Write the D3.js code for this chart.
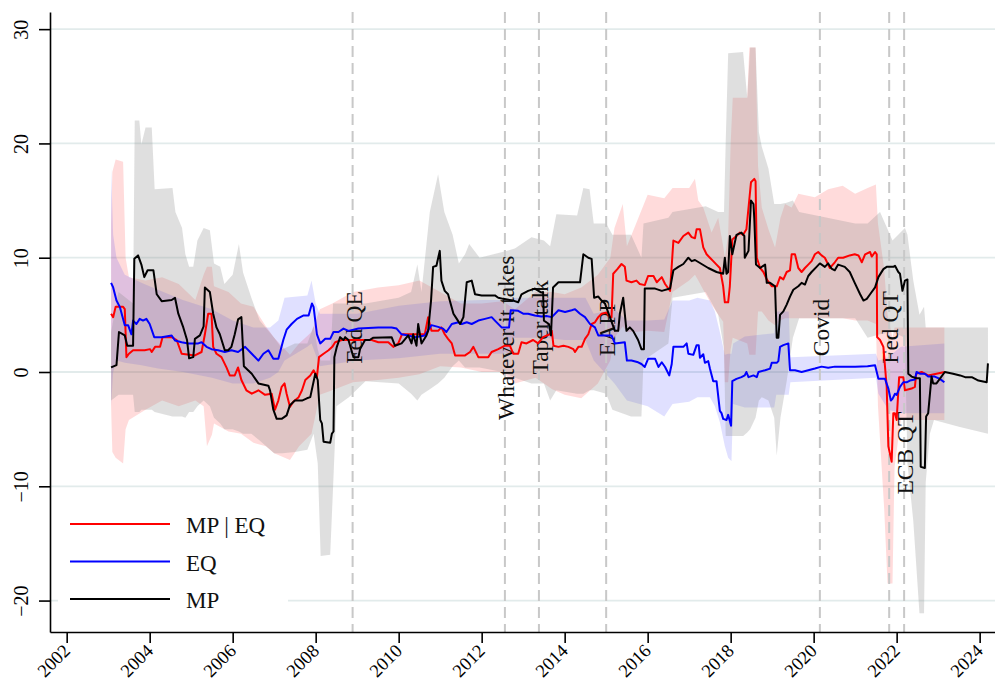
<!DOCTYPE html>
<html>
<head>
<meta charset="utf-8">
<script src="https://cdn.jsdelivr.net/npm/d3@7"></script>
<style>
  body { margin: 0; background: #fff; }
  #chart { width: 995px; height: 684px; }
  text { font-family: "Liberation Serif", "Times New Roman", serif; }
</style>
</head>
<body>
<div id="chart"></div>
<script>
// --- Data ---
const yTicks = [-20, -10, 0, 10, 20, 30];
const xTicks = [2002, 2004, 2006, 2008, 2010, 2012, 2014, 2016, 2018, 2020, 2022, 2024];

const events = [
  { name: "Fed QE", year: 2008.89, labelY: 3.9 },
  { name: "Whatever it takes", year: 2012.56, labelY: 3.0 },
  { name: "Taper talk", year: 2013.38, labelY: 3.9 },
  { name: "EAPP", year: 2015.0, labelY: 3.9 },
  { name: "Covid", year: 2020.15, labelY: 3.9 },
  { name: "Fed QT", year: 2021.82, labelY: 3.9 },
  { name: "ECB QT", year: 2022.18, labelY: -7.1 }
];

// MP | EQ (red)
const mpEqLine = [
  [2003.07,5.1],[2003.12,4.8],[2003.18,5.7],[2003.36,5.7],[2003.40,5.5],[2003.44,1.3],[2003.50,1.6],[2003.60,1.9],
  [2003.88,1.9],[2004.01,2.0],[2004.05,1.75],[2004.13,2.2],[2004.25,2.2],[2004.31,3.05],[2004.53,3.05],[2004.65,2.8],
  [2004.77,1.6],[2005.09,1.45],[2005.25,1.75],[2005.33,3.3],[2005.41,5.1],[2005.49,5.1],[2005.53,2.2],[2005.61,1.6],
  [2005.73,1.3],[2005.85,0.4],[2005.93,-0.3],[2006.05,-0.3],[2006.13,0.4],[2006.21,-0.7],[2006.33,-1.6],[2006.46,-1.9],
  [2006.62,-1.6],[2006.78,-2.0],[2006.94,-1.9],[2007.02,-3.3],[2007.10,-2.5],[2007.18,-1.3],[2007.25,-1.0],[2007.30,-1.9],
  [2007.38,-3.05],[2007.46,-2.6],[2007.59,-2.2],[2007.67,-1.6],[2007.75,-0.7],[2007.87,-0.3],[2007.95,0.15],[2008.03,-0.45],
  [2008.08,1.3],[2008.19,1.6],[2008.31,1.9],[2008.40,2.2],[2008.47,2.6],[2008.63,2.8],[2009.35,2.8],[2009.51,2.6],
  [2009.75,2.6],[2009.87,2.2],[2009.99,2.5],[2010.08,3.3],[2010.63,3.3],[2010.71,4.8],[2010.75,4.2],[2010.79,3.6],
  [2010.95,3.6],[2011.03,3.9],[2011.11,3.3],[2011.19,2.9],[2011.28,2.5],[2011.36,1.45],[2011.60,1.45],[2011.72,1.75],
  [2011.80,2.2],[2011.92,1.3],[2012.16,1.3],[2012.24,1.75],[2012.40,2.0],[2012.56,2.3],[2012.68,2.3],[2012.76,1.6],
  [2012.88,1.6],[2012.96,2.6],[2013.08,2.5],[2013.24,2.8],[2013.36,2.5],[2013.48,3.05],[2013.64,3.3],[2013.69,3.6],
  [2013.73,2.3],[2013.85,2.2],[2013.97,2.3],[2014.09,2.2],[2014.21,2.0],[2014.25,1.75],[2014.33,2.2],[2014.41,2.2],
  [2014.49,2.9],[2014.57,3.3],[2014.65,4.2],[2014.73,4.35],[2014.81,4.8],[2014.89,5.1],[2015.01,5.2],[2015.09,4.8],
  [2015.13,4.8],[2015.17,8.6],[2015.27,9.0],[2015.37,9.45],[2015.45,9.2],[2015.49,8.0],[2015.61,7.85],[2015.73,8.0],
  [2015.81,7.7],[2015.93,7.6],[2016.01,8.4],[2016.14,8.4],[2016.22,7.85],[2016.34,8.3],[2016.42,7.7],[2016.54,7.1],
  [2016.62,11.5],[2016.74,11.3],[2016.86,11.9],[2016.98,12.2],[2017.06,11.8],[2017.14,11.7],[2017.18,12.5],[2017.26,12.5],
  [2017.34,10.9],[2017.42,10.3],[2017.50,10.0],[2017.58,9.7],[2017.66,9.4],[2017.74,9.1],[2017.82,7.5],[2017.86,6.1],
  [2017.94,6.1],[2017.98,7.5],[2018.04,11.6],[2018.14,11.9],[2018.22,12.2],[2018.30,12.0],[2018.38,12.5],[2018.49,16.6],
  [2018.57,16.9],[2018.60,16.7],[2018.63,10.0],[2018.71,9.1],[2018.79,8.75],[2018.87,8.1],[2018.99,7.5],[2019.11,7.5],
  [2019.19,8.3],[2019.27,8.1],[2019.35,8.75],[2019.43,8.9],[2019.47,10.3],[2019.55,10.3],[2019.63,9.1],[2019.71,8.75],
  [2019.79,9.1],[2019.87,9.4],[2019.95,9.7],[2020.03,10.3],[2020.11,10.5],[2020.19,10.2],[2020.27,10.0],[2020.39,9.1],
  [2020.51,9.6],[2020.59,10.0],[2020.71,10.0],[2020.87,10.2],[2020.99,10.3],[2021.08,10.2],[2021.16,9.6],[2021.24,10.3],
  [2021.36,10.5],[2021.40,10.1],[2021.48,10.5],[2021.52,10.3],[2021.53,3.05],[2021.60,2.8],[2021.68,2.2],[2021.76,-1.3],
  [2021.80,-6.5],[2021.88,-7.85],[2021.92,-3.6],[2021.96,-3.6],[2022.00,-4.2],[2022.06,-0.45],[2022.16,-0.45],[2022.20,-1.6],
  [2022.36,-1.45],[2022.44,-1.3],[2022.47,-0.15],[2022.60,0.0],[2022.76,-0.3],[2022.96,-0.15],[2023.16,0.0]
];

// EQ (blue)
const eqLine = [
  [2003.07,7.8],[2003.12,7.4],[2003.20,6.25],[2003.28,5.7],[2003.40,4.1],[2003.48,4.1],[2003.56,3.3],[2003.60,4.5],
  [2003.68,4.2],[2003.76,4.65],[2003.84,4.5],[2003.92,4.65],[2004.00,4.2],[2004.11,3.05],[2004.29,3.05],[2004.53,3.2],
  [2004.61,2.75],[2004.77,2.6],[2004.93,2.5],[2005.17,2.5],[2005.25,2.6],[2005.37,2.2],[2005.49,2.0],[2005.65,1.9],
  [2005.81,1.75],[2005.97,1.9],[2006.13,1.75],[2006.30,2.2],[2006.46,1.6],[2006.62,1.0],[2006.74,1.6],[2006.86,1.9],
  [2006.98,1.15],[2007.10,1.15],[2007.22,2.8],[2007.30,3.7],[2007.42,4.2],[2007.55,4.65],[2007.71,4.95],[2007.83,4.95],
  [2007.91,6.0],[2007.95,5.7],[2007.99,4.5],[2008.03,3.3],[2008.11,2.5],[2008.23,2.9],[2008.35,2.9],[2008.43,3.5],
  [2008.55,3.5],[2008.67,3.8],[2008.79,3.6],[2009.03,3.8],[2009.51,3.9],[2009.83,3.9],[2009.95,3.8],[2010.07,3.3],
  [2010.23,3.2],[2010.39,3.05],[2010.63,3.2],[2010.79,4.1],[2010.95,3.95],[2011.07,3.8],[2011.15,3.5],[2011.28,4.2],
  [2011.44,4.35],[2011.52,4.2],[2011.64,4.35],[2011.76,4.2],[2011.92,4.5],[2012.08,4.65],[2012.24,4.8],[2012.32,4.5],
  [2012.48,3.9],[2012.66,3.9],[2012.70,5.4],[2012.88,5.35],[2013.00,5.1],[2013.12,5.1],[2013.28,4.95],[2013.44,4.85],
  [2013.56,4.9],[2013.69,4.8],[2013.85,5.4],[2014.01,5.25],[2014.17,5.4],[2014.25,5.5],[2014.37,5.1],[2014.49,4.8],
  [2014.61,4.2],[2014.73,3.9],[2014.81,3.2],[2015.13,3.2],[2015.21,2.5],[2015.45,2.6],[2015.50,1.0],[2015.61,1.0],
  [2015.77,0.85],[2015.85,0.7],[2015.93,0.44],[2016.01,1.15],[2016.18,1.15],[2016.26,0.44],[2016.34,0.85],[2016.42,0.44],
  [2016.52,-0.3],[2016.58,0.7],[2016.62,2.2],[2016.86,2.2],[2016.94,2.5],[2016.98,1.6],[2017.10,1.5],[2017.18,2.35],
  [2017.23,2.35],[2017.26,1.25],[2017.34,1.55],[2017.38,0.8],[2017.46,0.95],[2017.50,0.3],[2017.58,-0.8],[2017.66,-0.8],
  [2017.74,-3.4],[2017.78,-3.6],[2017.82,-4.1],[2017.90,-4.2],[2017.94,-3.75],[2018.01,-4.7],[2018.04,-0.8],[2018.14,-0.6],
  [2018.26,-0.45],[2018.34,-0.3],[2018.38,0.0],[2018.43,-0.45],[2018.55,-0.3],[2018.63,-0.45],[2018.67,0.0],[2018.83,0.15],
  [2018.95,0.3],[2018.99,0.8],[2019.11,0.8],[2019.15,0.95],[2019.19,2.2],[2019.27,2.35],[2019.39,2.5],[2019.43,0.15],
  [2019.55,0.15],[2019.71,0.0],[2019.87,0.15],[2020.03,0.3],[2020.19,0.47],[2020.35,0.38],[2020.51,0.47],[2021.00,0.47],
  [2021.30,0.5],[2021.48,0.6],[2021.56,-0.6],[2021.72,-0.6],[2021.80,-1.45],[2021.86,-2.5],[2021.90,-2.35],[2021.96,-1.9],
  [2022.00,-2.0],[2022.08,-1.3],[2022.16,-0.9],[2022.24,-0.9],[2022.32,-0.75],[2022.44,-0.65],[2022.48,0.0],[2022.56,-0.15],
  [2022.68,-0.15],[2022.76,-0.4],[2022.92,-0.4],[2023.04,-0.6],[2023.15,-0.9]
];

// MP (black)
const mpLine = [
  [2003.07,0.4],[2003.20,0.6],[2003.26,3.5],[2003.40,3.2],[2003.46,2.3],[2003.60,2.3],[2003.63,9.9],[2003.72,10.2],
  [2003.80,9.4],[2003.87,8.3],[2003.95,8.9],[2004.09,8.9],[2004.17,6.8],[2004.29,6.2],[2004.53,6.3],[2004.61,6.5],
  [2004.69,5.1],[2004.81,3.9],[2004.90,2.8],[2004.95,1.2],[2005.05,1.3],[2005.09,2.9],[2005.21,3.2],[2005.30,4.0],
  [2005.33,7.4],[2005.45,7.0],[2005.53,5.1],[2005.61,3.9],[2005.69,3.3],[2005.81,1.9],[2005.89,1.9],[2005.97,2.2],
  [2006.05,3.3],[2006.13,4.6],[2006.21,4.8],[2006.27,0.5],[2006.46,-0.15],[2006.62,-1.0],[2006.86,-1.2],[2006.90,-1.6],
  [2006.98,-3.3],[2007.06,-4.1],[2007.18,-4.1],[2007.30,-3.8],[2007.38,-2.9],[2007.50,-2.5],[2007.67,-2.5],[2007.79,-2.3],
  [2007.87,-2.2],[2007.99,-0.15],[2008.05,-0.7],[2008.11,-4.2],[2008.15,-4.5],[2008.19,-6.1],[2008.35,-6.2],[2008.39,-5.4],
  [2008.43,-5.2],[2008.45,1.3],[2008.51,2.2],[2008.59,3.05],[2008.67,2.8],[2008.71,3.05],[2008.79,2.8],[2008.91,1.3],
  [2009.03,1.3],[2009.07,2.0],[2009.19,2.8],[2009.30,2.8],[2009.39,3.0],[2009.83,3.05],[2009.91,2.3],[2010.07,2.5],
  [2010.23,3.2],[2010.31,2.5],[2010.35,3.3],[2010.43,2.3],[2010.47,4.2],[2010.55,2.5],[2010.67,3.2],[2010.71,3.6],
  [2010.78,6.25],[2010.83,9.2],[2010.91,9.3],[2010.99,10.6],[2011.03,8.0],[2011.11,7.1],[2011.19,6.8],[2011.32,5.1],
  [2011.40,4.65],[2011.48,4.2],[2011.56,4.8],[2011.64,7.85],[2011.76,8.0],[2011.84,6.8],[2012.00,6.7],[2012.32,6.7],
  [2012.40,6.5],[2012.52,6.4],[2012.76,6.25],[2012.88,6.1],[2012.96,6.8],[2013.12,7.1],[2013.28,7.3],[2013.44,6.95],
  [2013.48,7.0],[2013.50,4.5],[2013.62,4.2],[2013.67,3.2],[2013.72,7.4],[2013.85,7.85],[2014.37,7.85],[2014.45,10.3],
  [2014.57,10.0],[2014.65,9.9],[2014.71,6.5],[2014.81,6.6],[2014.89,6.25],[2014.97,6.0],[2015.09,4.8],[2015.21,3.6],
  [2015.29,3.6],[2015.33,5.1],[2015.41,6.5],[2015.49,3.6],[2015.57,3.9],[2015.65,3.6],[2015.77,2.8],[2015.85,2.0],
  [2015.91,2.0],[2015.93,7.3],[2016.18,7.3],[2016.34,7.1],[2016.54,7.3],[2016.62,8.9],[2016.74,9.2],[2016.86,9.45],
  [2016.98,10.0],[2017.06,9.7],[2017.14,9.8],[2017.46,9.1],[2017.66,8.75],[2017.82,8.6],[2017.86,10.0],[2017.90,8.6],
  [2017.94,8.75],[2017.98,11.9],[2018.04,10.3],[2018.14,12.0],[2018.26,12.2],[2018.33,11.9],[2018.34,10.0],[2018.43,10.6],
  [2018.49,15.0],[2018.55,14.7],[2018.57,13.4],[2018.61,9.4],[2018.71,9.1],[2018.83,9.4],[2018.87,7.8],[2018.95,7.8],
  [2019.07,7.5],[2019.11,3.0],[2019.15,3.0],[2019.19,5.0],[2019.27,5.3],[2019.35,5.9],[2019.43,6.6],[2019.51,7.2],
  [2019.63,7.5],[2019.71,7.8],[2019.79,7.65],[2019.87,8.4],[2019.95,8.75],[2020.07,9.2],[2020.15,9.5],[2020.27,9.2],
  [2020.35,9.5],[2020.43,9.05],[2020.51,8.9],[2020.59,9.4],[2020.75,9.2],[2020.87,8.75],[2020.99,7.8],[2021.12,6.8],
  [2021.20,6.25],[2021.28,6.4],[2021.36,6.8],[2021.48,7.4],[2021.56,8.3],[2021.68,9.0],[2021.76,9.2],[2021.92,9.2],
  [2021.96,9.3],[2022.04,8.75],[2022.08,8.6],[2022.14,7.1],[2022.20,8.0],[2022.26,8.1],[2022.28,-0.15],[2022.36,-0.4],
  [2022.48,-0.55],[2022.56,-0.55],[2022.58,-8.3],[2022.68,-8.4],[2022.71,-3.9],[2022.76,-3.6],[2022.84,-0.4],[2022.88,-1.0],
  [2022.96,-1.0],[2023.16,0.0],[2023.36,-0.15],[2023.53,-0.3],[2023.65,-0.45],[2023.81,-0.45],[2023.97,-0.75],[2024.17,-0.9],
  [2024.20,0.75]
];

// confidence bands: [year, lower, upper]
const mpEqBand = [
  [2003.07,-3,13],[2003.10,-7,17.5],[2003.18,-7.5,18.6],[2003.36,-8,18.4],[2003.42,-5,10],[2003.50,-4.2,8.3],
  [2003.90,-3.3,8],[2004.30,-2.5,8.3],[2004.70,-3,7.7],[2005.10,-2.5,6.3],[2005.30,-3,8.5],[2005.38,-6.5,9.2],
  [2005.50,-5.5,9.2],[2005.55,-4.5,7.5],[2005.90,-5.2,7],[2006.20,-5.4,6],[2006.50,-6.2,5.7],[2006.80,-6.5,4],
  [2007.00,-7.1,3],[2007.38,-7.7,1.5],[2007.60,-6.5,2.5],[2007.90,-5.4,3.5],[2008.10,-2,5.5],[2008.40,-1.6,6],
  [2008.90,-0.9,7],[2009.50,-0.7,7.4],[2010.00,-0.5,7.6],[2010.50,-0.2,8],[2011.00,0.5,7],[2011.50,0.4,6],
  [2012.00,0,6],[2012.50,0,6.2],[2012.80,-1,5.5],[2013.30,-0.5,7],[2013.70,-1.5,7],[2014.00,-2,6.8],
  [2014.40,-2.3,7.4],[2014.80,-1,8.5],[2015.10,1,10],[2015.20,3,12.6],[2015.40,4,14.7],[2015.50,3.5,11],
  [2015.70,3.5,12.8],[2016.00,3.6,15.5],[2016.40,3.5,15.2],[2016.60,7,16.1],[2017.00,8,16.1],[2017.14,8.5,16.9],
  [2017.22,8,15],[2017.34,7.2,14.4],[2017.54,5.9,12.2],[2017.70,5,13.5],[2017.82,4.4,11],[2017.86,-0.9,10],
  [2017.94,-0.9,12],[2018.00,2,20],[2018.05,3,24],[2018.40,2.5,24],[2018.45,1.5,28.4],[2018.60,1.5,28.4],
  [2018.66,5.3,18],[2018.75,5.3,14.4],[2018.91,4.5,12.5],[2019.07,4.1,10.9],[2019.20,4.5,13.5],[2019.31,4.7,14.7],
  [2019.47,4.7,14.4],[2019.63,4.7,15.6],[2020.03,4.7,15.3],[2020.35,4.7,16],[2020.70,4.7,16.3],[2021.00,4.5,15.6],
  [2021.30,4.5,16.1],[2021.50,4.2,16.4],[2021.55,-3,13],[2021.70,-12,9],[2021.78,-18.5,5],[2021.90,-18.5,3],
  [2021.95,-8.3,3.9],[2022.10,-4.2,3.9],[2023.15,-4.2,3.9]
];

const eqBand = [
  [2003.07,-3,17.9],[2003.12,0,12],[2003.20,1,10],[2003.40,0.8,8.5],[2003.80,0.6,7.8],[2004.20,0.3,7.2],
  [2004.80,0,6.3],[2005.50,-0.5,5.5],[2006.00,-1,4.5],[2006.50,-1,3.9],[2006.90,-0.5,3.9],[2007.10,0,4.5],
  [2007.25,1,6.5],[2007.80,2.2,6.7],[2007.90,2.5,8],[2008.00,1.5,6],[2008.10,0.5,5.1],[2009.00,1,5.1],
  [2010.00,1.2,5.8],[2011.00,1.6,6.2],[2012.00,1.6,6.3],[2012.65,1.6,6.3],[2012.75,3,6.5],[2013.50,3,6.5],
  [2014.00,2.8,6.5],[2014.50,2.8,6.5],[2014.70,1,5.1],[2015.20,-1,5.5],[2015.50,-2.5,4.5],[2016.00,-3,4.5],
  [2016.40,-3.9,4.6],[2016.60,-2.8,6.25],[2017.00,-2.6,6.25],[2017.20,-2.2,6.5],[2017.50,-2.2,6.25],[2017.62,-3,5.3],
  [2017.74,-4.4,3.5],[2017.86,-6.5,1.5],[2017.94,-7.5,1.6],[2018.02,-7.8,1.6],[2018.06,-2.8,2.5],[2018.34,-3.1,3.1],
  [2019.05,-3.1,3.4],[2019.10,-2,5.3],[2019.40,-2,5.3],[2019.44,-0.9,1.3],[2021.50,-0.5,1.6],[2021.56,-1.9,1],
  [2021.80,-3.3,1.3],[2022.10,-3.6,2.2],[2023.15,-3.6,2.5]
];

const mpBand = [
  [2003.07,-2.5,3.5],[2003.25,-2,7],[2003.60,-2,6],[2003.64,-3.5,22],[2003.75,-3.5,22],[2003.80,-3.3,19.9],
  [2003.90,-3.3,21.4],[2004.05,-3.3,21.4],[2004.12,-3.5,16],[2004.55,-3.9,16.1],[2004.62,-3.9,14],[2004.78,-3.9,12.6],
  [2004.86,-4,10.3],[2004.95,-3.5,9.2],[2005.05,-3.5,9.2],[2005.15,-3,11.5],[2005.30,-2.5,12.6],[2005.45,-3,12.4],
  [2005.55,-4,9.5],[2005.70,-4.5,9.2],[2005.80,-5,7.7],[2006.00,-5,8.5],[2006.15,-5.2,11.2],[2006.25,-5.4,8.7],
  [2006.45,-5.4,6.5],[2006.65,-6,4.5],[2007.00,-7.1,3],[2007.20,-7.1,2],[2007.50,-7,2.5],[2007.80,-6.8,2.5],
  [2007.95,-5.4,4],[2008.05,-8,2],[2008.12,-16.1,1],[2008.35,-16,1],[2008.42,-10,6],[2008.50,-3,6],
  [2008.80,-2.2,6],[2009.20,-0.8,6],[2010.00,-1,6.5],[2010.30,-1.9,7],[2010.45,-2.5,9.4],[2010.55,-2,7],
  [2010.75,-1.5,14],[2010.95,-1,17.3],[2011.10,-0.5,14],[2011.30,0.5,12],[2011.45,1,9.5],[2011.60,0.4,10.3],
  [2011.70,0.4,11.2],[2011.95,0.4,10],[2012.50,0,10.5],[2012.80,-0.5,10.8],[2013.20,-1,11.8],[2013.50,-1,11.5],
  [2013.65,-2.5,11],[2013.80,-1.6,13.8],[2014.30,-1.9,13.7],[2014.45,-1.9,16.1],[2014.60,-1.6,16],[2014.70,-1.6,13],
  [2015.00,-1.9,13],[2015.15,-3.3,12],[2015.60,-3.9,12],[2015.85,-3.9,10],[2015.90,1,13],[2016.50,2.5,13.5],
  [2016.60,6.5,14],[2017.40,7,14.5],[2017.70,5,14],[2017.84,2,14],[2017.88,-5.6,20],[2017.94,-5.6,27.9],
  [2018.30,-5.6,28],[2018.40,-5.3,24],[2018.47,-5,28.4],[2018.60,-4,28.4],[2018.68,-2.5,21],[2018.75,-2.2,19.7],
  [2018.91,-2.5,17.8],[2019.05,-4,14.7],[2019.11,-7.3,14.7],[2019.20,-4,14.7],[2019.35,-0.8,14.8],[2019.50,3,15],
  [2019.65,4.7,14],[2021.00,4.7,13],[2021.30,3,13],[2021.60,3.3,14],[2021.90,3.5,11.5],[2022.20,3,12.6],
  [2022.26,-8,12],[2022.40,-13,8],[2022.55,-21.1,5],[2022.66,-21.1,5.7],[2022.70,-9.7,3.9],[2022.80,-5.4,3.9],
  [2022.90,-4.2,3.9],[2023.50,-4.8,3.9],[2024.20,-5.4,3.9]
];

// --- Configuration ---
const width = 995, height = 684;
const plot = { left: 50, right: 995, top: 12, bottom: 632 };

const xScale = d3.scaleLinear().domain([2001.598, 2024.37]).range([plot.left, plot.right]);
const yScale = d3.scaleLinear().domain([-22.75, 31.5]).range([plot.bottom, plot.top]);

const svg = d3.select("#chart").append("svg")
    .attr("width", width)
    .attr("height", height);

// --- Gridlines ---
svg.append("g").selectAll("line")
    .data(yTicks)
    .join("line")
    .attr("x1", plot.left).attr("x2", plot.right)
    .attr("y1", d => yScale(d)).attr("y2", d => yScale(d))
    .attr("stroke", "#e2ebeb")
    .attr("stroke-width", 1.8);

// --- Bands ---
const band = d3.area()
    .x(d => xScale(d[0]))
    .y0(d => yScale(d[1]))
    .y1(d => yScale(d[2]));

svg.append("path").datum(mpEqBand).attr("d", band)
    .attr("fill", "#ff0000").attr("fill-opacity", 0.14);
svg.append("path").datum(eqBand).attr("d", band)
    .attr("fill", "#0000ff").attr("fill-opacity", 0.12);
svg.append("path").datum(mpBand).attr("d", band)
    .attr("fill", "#8c8c8c").attr("fill-opacity", 0.28);

// --- Event lines ---
svg.append("g").selectAll("line")
    .data(events)
    .join("line")
    .attr("x1", d => xScale(d.year)).attr("x2", d => xScale(d.year))
    .attr("y1", plot.top).attr("y2", plot.bottom)
    .attr("stroke", "#c8c8c8")
    .attr("stroke-width", 2)
    .attr("stroke-dasharray", "11,6");

svg.append("g").selectAll("text")
    .data(events)
    .join("text")
    .attr("transform", d => `translate(${xScale(d.year) + 1},${yScale(d.labelY)}) rotate(-90)`)
    .attr("text-anchor", "middle")
    .attr("dominant-baseline", "central")
    .attr("font-size", "23.5px")
    .attr("fill", "#111")
    .text(d => d.name);

// --- Lines ---
const line = d3.line()
    .x(d => xScale(d[0]))
    .y(d => yScale(d[1]));

const series = [
  { name: "MP | EQ", data: mpEqLine, color: "#ff0000" },
  { name: "EQ", data: eqLine, color: "#0000ff" },
  { name: "MP", data: mpLine, color: "#000000" }
];

series.forEach(s => {
  svg.append("path").datum(s.data)
      .attr("d", line)
      .attr("fill", "none")
      .attr("stroke", s.color)
      .attr("stroke-width", 2)
      .attr("stroke-linejoin", "round");
});

// --- Axes ---
const yAxis = svg.append("g")
    .attr("transform", `translate(${plot.left},0)`)
    .call(d3.axisLeft(yScale).tickValues(yTicks).tickSize(11).tickSizeOuter(0));
yAxis.select(".domain").attr("stroke", "#000").attr("stroke-width", 1.6);
yAxis.selectAll(".tick line").attr("stroke", "#000").attr("stroke-width", 1.6);
yAxis.selectAll(".tick text")
    .attr("x", 0).attr("dy", null)
    .attr("transform", "translate(-22,0) rotate(-90)")
    .attr("text-anchor", "middle")
    .attr("font-family", "Liberation Serif, serif")
    .attr("font-size", "20px")
    .attr("fill", "#000");

// year labels, slanted; kept just inside the bottom edge
const xAxis = svg.append("g")
    .attr("transform", `translate(0,${plot.bottom})`)
    .call(d3.axisBottom(xScale).tickValues(xTicks).tickFormat(d3.format("d")).tickSize(11).tickSizeOuter(0));
xAxis.select(".domain").attr("stroke", "#000").attr("stroke-width", 1.6);
xAxis.selectAll(".tick line").attr("stroke", "#000").attr("stroke-width", 1.6);
xAxis.selectAll(".tick text")
    .attr("y", 0).attr("dy", null)
    .attr("transform", "translate(4,20) rotate(-45)")
    .attr("text-anchor", "end")
    .attr("font-family", "Liberation Serif, serif")
    .attr("font-size", "18.5px")
    .attr("fill", "#000");

// --- Legend ---
const legendG = svg.append("g");
legendG.append("rect")
    .attr("x", 58).attr("y", 496)
    .attr("width", 230).attr("height", 128)
    .attr("fill", "#fff");

const legendItems = legendG.selectAll("g.item")
    .data(series)
    .join("g")
    .attr("class", "item")
    .attr("transform", (d, i) => `translate(0,${524 + i * 37.5})`);
legendItems.append("line")
    .attr("x1", 70).attr("x2", 170)
    .attr("stroke", d => d.color)
    .attr("stroke-width", 2);
legendItems.append("text")
    .attr("x", 186).attr("y", 9)
    .attr("font-size", "23px")
    .attr("fill", "#111")
    .text(d => d.name);
</script>
</body>
</html>
